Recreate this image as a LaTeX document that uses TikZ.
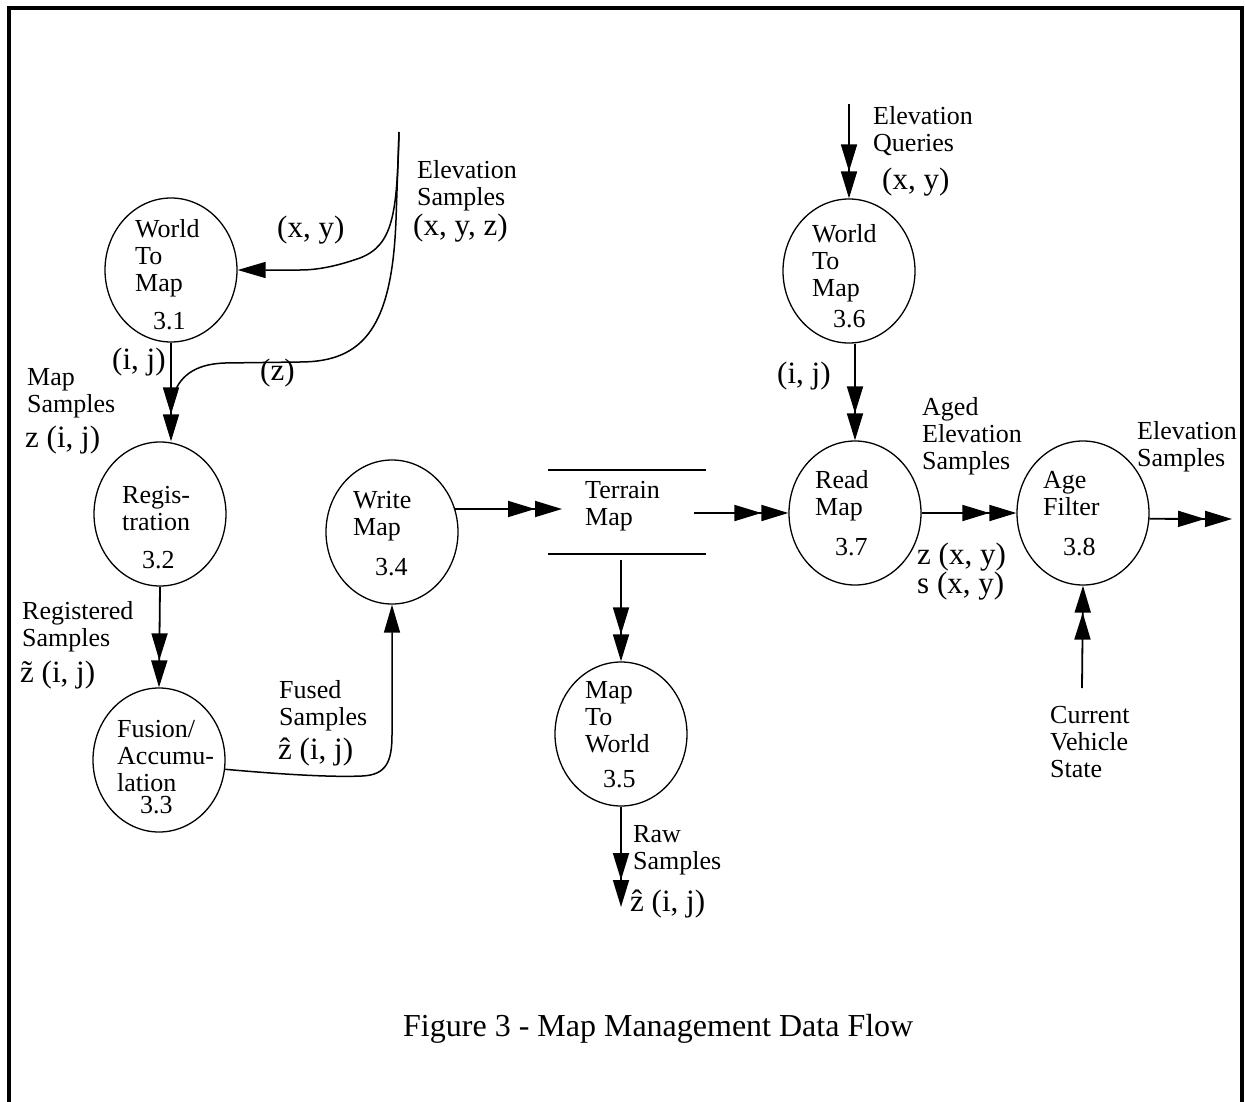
\documentclass[tikz,border=0pt]{standalone}
\usepackage{fontspec}
\setmainfont{Liberation Serif}
\usetikzlibrary{shapes.geometric,arrows.meta,calc}
\newcommand\mlines[1]{\vtop{\halign{##\hfil\cr#1\crcr}}}
\newcommand\zhat{\smash{\accent"02C6 z}}
\newcommand\ztil{\smash{\accent"02DC z}}
\begin{document}
\begin{tikzpicture}[x=1pt,y=-1pt,
  proc/.style={ellipse, draw, line width=1.3pt, minimum width=132pt, minimum height=144pt, inner sep=0pt},
  lbl/.style={anchor=base west, inner sep=0pt, font=\fontsize{26}{27}\selectfont},
  big/.style={anchor=base west, inner sep=0pt, font=\fontsize{31}{28}\selectfont},
  flow/.style={line width=1.8pt, -{Triangle[length=27pt,width=16pt]Triangle[length=27pt,width=16pt]}},
  flowone/.style={line width=1.5pt, -{Triangle[length=28pt,width=16pt]}},
  curve/.style={line width=1.5pt}]
\useasboundingbox (0,0) rectangle (1245,1102);
\clip (0,0) rectangle (1245,1102);
\fill[white] (0,0) rectangle (1245,1102);
\draw[line width=3.5pt] (9,8) rectangle (1242,1140);

% processes
\node[proc] (w1) at (171,270) {};
\node[proc] (reg) at (160,514) {};
\node[proc] (fus) at (159,760) {};
\node[proc] (wm) at (392,532) {};
\node[inner sep=0pt, minimum width=158pt, minimum height=84pt] (tm) at (627,512) {};
\node[proc] (m2w) at (621,734) {};
\node[proc] (w2) at (849,271) {};
\node[proc] (rm) at (855,513) {};
\node[proc] (af) at (1083,513) {};

% terrain map store lines
\draw[line width=1.5pt] (tm.north west) -- (tm.north east);
\draw[line width=1.5pt] (tm.south west) -- (tm.south east);

% free ends
\coordinate (es) at (399,132);
\coordinate (zend) at (172,400);
\coordinate (tmin) at (562,509);
\coordinate (tmout) at (694,513);
\coordinate (tmdown) at (621,560);
\coordinate (rawend) at (621,907);
\coordinate (eq) at (849,104);
\coordinate (outend) at (1232,519);
\coordinate (cvs) at (1082,688);

% connectors
\draw[curve, flowone] (es) .. controls (397,215) and (393,245) .. (360,258) .. controls (340,265) and (320,270) .. (300,270) -- (w1.east);
\draw[curve] (es) -- (396,220) .. controls (392,325) and (365,362) .. (300,362) -- (225,363) .. controls (195,364) and (178,376) .. (zend);
\draw[flow] (w1.south) -- (w1.south |- reg.north);
\draw[flow] (reg.south) -- (fus.north);
\draw[curve, flowone] (fus.-8) .. controls (300,776) and (340,777) .. (362,776) .. controls (386,775) and (392,762) .. (392,735) -- (wm.south);
\draw[flow] (wm.20) -- (tmin);
\draw[flow] (tmout) -- (rm.west);
\draw[flow] (tmdown) -- (m2w.north);
\draw[flow] (m2w.south) -- (rawend);
\draw[flow] (eq) -- (w2.north);
\draw[flow] (w2.south -| rm.north) -- (rm.north);
\draw[flow] (rm.east) -- (af.west);
\draw[flow] (af.-5) -- (outend);
\draw[flow] (cvs) -- (af.south);

% texts in processes
\node[lbl] (t31) at (135,238) {\mlines{World\cr To\cr Map}};
\node[lbl] (n31) at (153,329) {3.1};
\node[lbl] (t32) at (122,503) {\mlines{Regis-\cr tration}};
\node[lbl] (n32) at (142,568) {3.2};
\node[lbl] (t33) at (117,737) {\mlines{Fusion/\cr Accumu-\cr lation}};
\node[lbl] (n33) at (140,813) {3.3};
\node[lbl] (t34) at (353,508) {\mlines{Write\cr Map}};
\node[lbl] (n34) at (375,575) {3.4};
\node[lbl] (ttm) at (585,498) {\mlines{Terrain\cr Map}};
\node[lbl] (t35) at (585,698) {\mlines{Map\cr To\cr World}};
\node[lbl] (n35) at (603,787) {3.5};
\node[lbl] (t36) at (812,243) {\mlines{World\cr To\cr Map}};
\node[lbl] (n36) at (833,327) {3.6};
\node[lbl] (t37) at (815,488) {\mlines{Read\cr Map}};
\node[lbl] (n37) at (835,555) {3.7};
\node[lbl] (t38) at (1043,488) {\mlines{Age\cr Filter}};
\node[lbl] (n38) at (1063,555) {3.8};

% flow labels
\node[lbl] (les) at (417,179) {\mlines{Elevation\cr Samples}};
\node[big] (lxyz) at (413,236) {(x, y, z)};
\node[big] (lxy1) at (277,237) {(x, y)};
\node[big] (lz) at (260,380) {(z)};
\node[big] (lij1) at (112,369) {(i, j)};
\node[lbl] (lms) at (27,385) {\mlines{Map\cr Samples}};
\node[big] (lzij) at (25,447) {z (i, j)};
\node[lbl] (lrs) at (22,619) {\mlines{Registered\cr Samples}};
\node[big] (lztij) at (20,682) {\ztil{} (i, j)};
\node[lbl] (lfs) at (279,698) {\mlines{Fused\cr Samples}};
\node[big] (lzhij) at (278,759) {\zhat{} (i, j)};
\node[lbl] (lraw) at (633,842) {\mlines{Raw\cr Samples}};
\node[big] (lzhraw) at (630,911) {\zhat{} (i, j)};
\node[lbl] (leq) at (873,125) {\mlines{Elevation\cr Queries}};
\node[big] (lxy2) at (882,190) {(x, y)};
\node[big] (lij2) at (777,383) {(i, j)};
\node[lbl] (laged) at (922,415) {\mlines{Aged\cr Elevation\cr Samples}};
\node[big] (lzs) at (917,564) {\mlines{z (x, y)\cr s (x, y)}};
\node[lbl] (lout) at (1137,439) {\mlines{Elevation\cr Samples}};
\node[lbl] (lcvs) at (1050,723) {\mlines{Current\cr Vehicle\cr State}};

% caption
\node[anchor=base west, inner sep=0pt, font=\fontsize{32}{36}\selectfont] (cap) at (403,1036) {Figure 3 - Map Management Data Flow};
\end{tikzpicture}
\end{document}
